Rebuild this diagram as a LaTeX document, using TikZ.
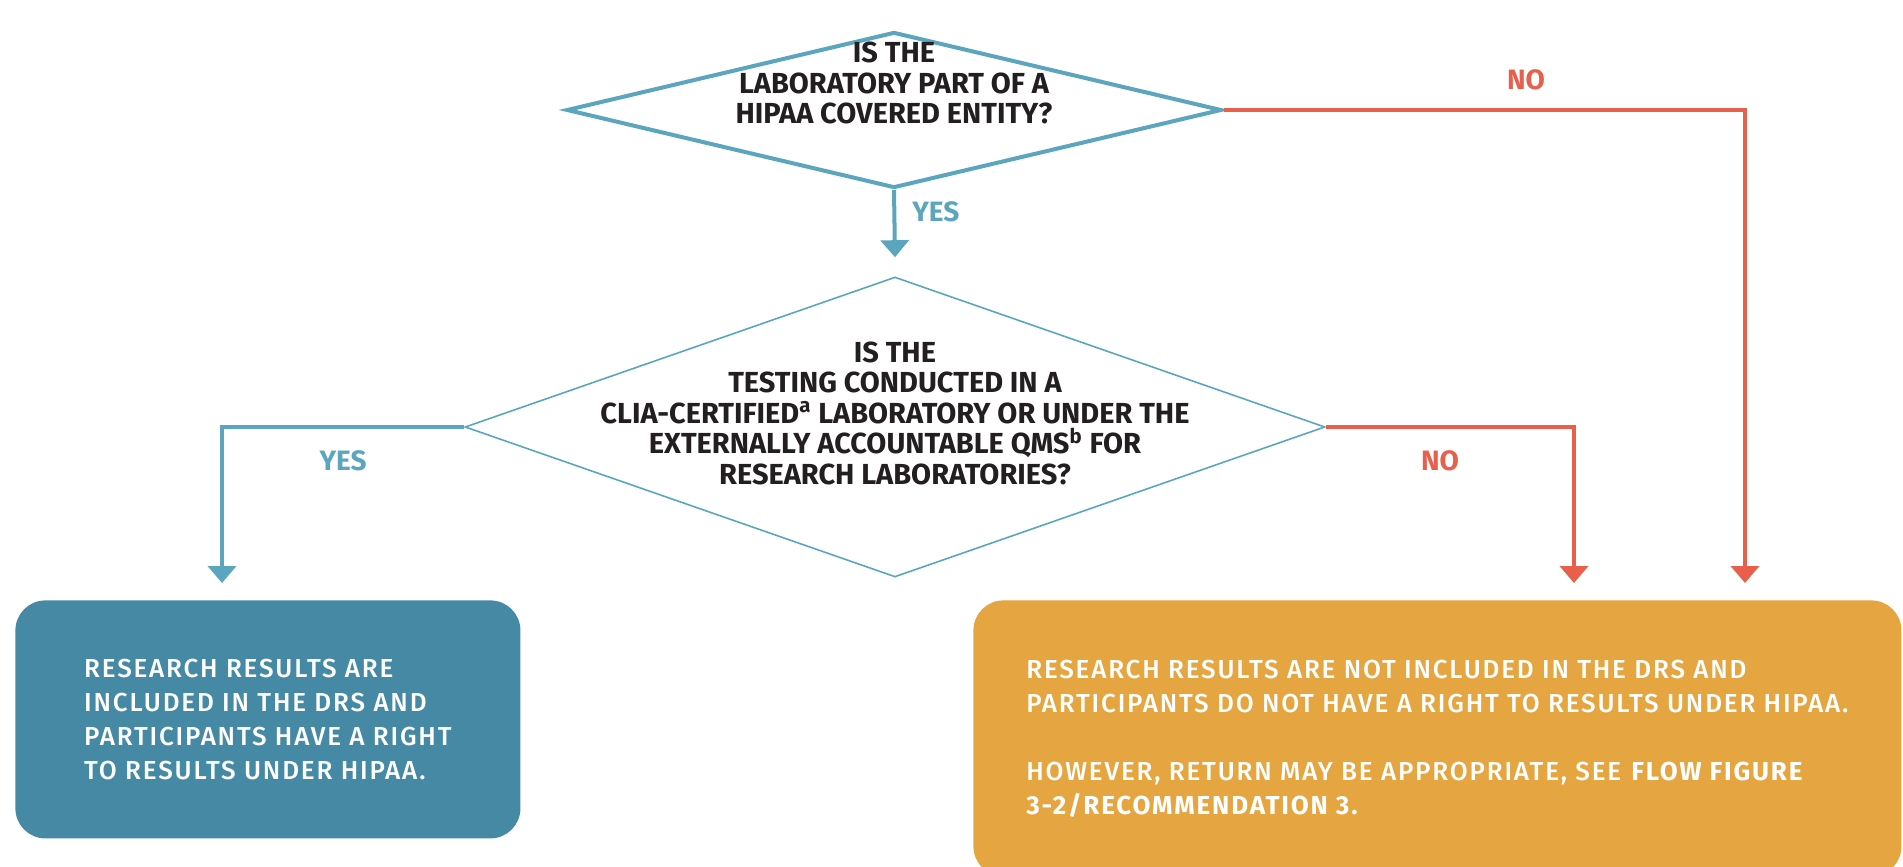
\documentclass[tikz,border=0pt]{standalone}
\usepackage{fontspec}
\setmainfont{Fira Sans}
\newfontfamily\boxfont{Fira Sans Medium}[BoldFont={Fira Sans Bold}, LetterSpace=7]
\usetikzlibrary{shapes.geometric, arrows.meta, positioning}

\definecolor{lineblue}{HTML}{5BA6BE}
\definecolor{fillblue}{HTML}{4589A5}
\definecolor{fillorange}{HTML}{E5A541}
\definecolor{linered}{HTML}{E8604C}
\definecolor{textdark}{HTML}{231F20}

\begin{document}
\begin{tikzpicture}[
        x=0.5pt, y=-0.5pt,
        % Style for the two questions
        decision/.style={diamond, draw=lineblue, fill=white, inner sep=0pt},
        question/.style={font=\bfseries\fontsize{14.5}{15.25}\selectfont, text=textdark, align=center},
        % Style for the two outcome boxes
        outcome/.style={rectangle, rounded corners=15pt, text=white, align=left, anchor=north west, font=\boxfont\fontsize{13}{17}\selectfont},
        % Styles for the arrows and their labels
        yesline/.style={draw=lineblue, line width=2pt, -{Triangle[width=14pt,length=8.5pt]}},
        noline/.style={draw=linered, line width=2pt, -{Triangle[width=14pt,length=8.5pt]}},
        yestext/.style={text=lineblue, font=\bfseries\fontsize{14}{16}\selectfont, inner sep=0pt},
        notext/.style={text=linered, font=\bfseries\fontsize{14}{16}\selectfont, inner sep=0pt}
    ]
    \path[use as bounding box, fill=white] (0,0) rectangle (1903,867);

    % --- QUESTIONS ---
    \node (q1) [decision, line width=2pt, minimum width=327.5pt, minimum height=78pt,
        label={[question, yshift=13.5pt]center:{IS THE\\LABORATORY PART OF A\\HIPAA COVERED ENTITY?}}] at (894,110) {};

    \node (q2) [decision, line width=0.8pt, minimum width=430pt, minimum height=150pt,
        label={[question, yshift=7pt]center:{IS THE\\TESTING CONDUCTED IN A\\CLIA-CERTIFIED\textsuperscript{a} LABORATORY OR UNDER THE\\EXTERNALLY ACCOUNTABLE QMS\textsuperscript{b} FOR\\RESEARCH LABORATORIES?}}] at (895,427) {};

    % --- OUTCOMES ---
    \node (yesbox) [outcome, fill=fillblue, minimum width=252.5pt, minimum height=119pt] at (15,600)
    {RESEARCH RESULTS ARE\\INCLUDED IN THE DRS AND\\PARTICIPANTS HAVE A RIGHT\\TO RESULTS UNDER HIPAA.};

    \node (nobox) [outcome, fill=fillorange, minimum width=464pt, minimum height=138pt] at (973,600)
    {RESEARCH RESULTS ARE NOT INCLUDED IN THE DRS AND\\PARTICIPANTS DO NOT HAVE A RIGHT TO RESULTS UNDER HIPAA.\\[17pt]HOWEVER, RETURN MAY BE APPROPRIATE, SEE \textbf{FLOW FIGURE}\\\textbf{3-2/RECOMMENDATION 3.}};

    % --- ARROWS ---
    \coordinate (dropno1) at (1745,583);
    \coordinate (dropno2) at (1574,583);
    \coordinate (dropyes) at (222,583);

    \draw[yesline] (q1.south) -- node[yestext, right=8pt, pos=0.33] (yes1) {YES} ([yshift=9.5pt]q2.north);
    \draw[noline] (q1.east) -| node[notext, above=9pt, pos=0.29] (no1) {NO} (dropno1);
    \draw[yesline] (q2.west) -| node[yestext, below=11pt, pos=0.25] (yes2) {YES} (dropyes);
    \draw[noline] (q2.east) -| node[notext, below=11pt, pos=0.23] (no2) {NO} (dropno2);

\end{tikzpicture}
\end{document}
